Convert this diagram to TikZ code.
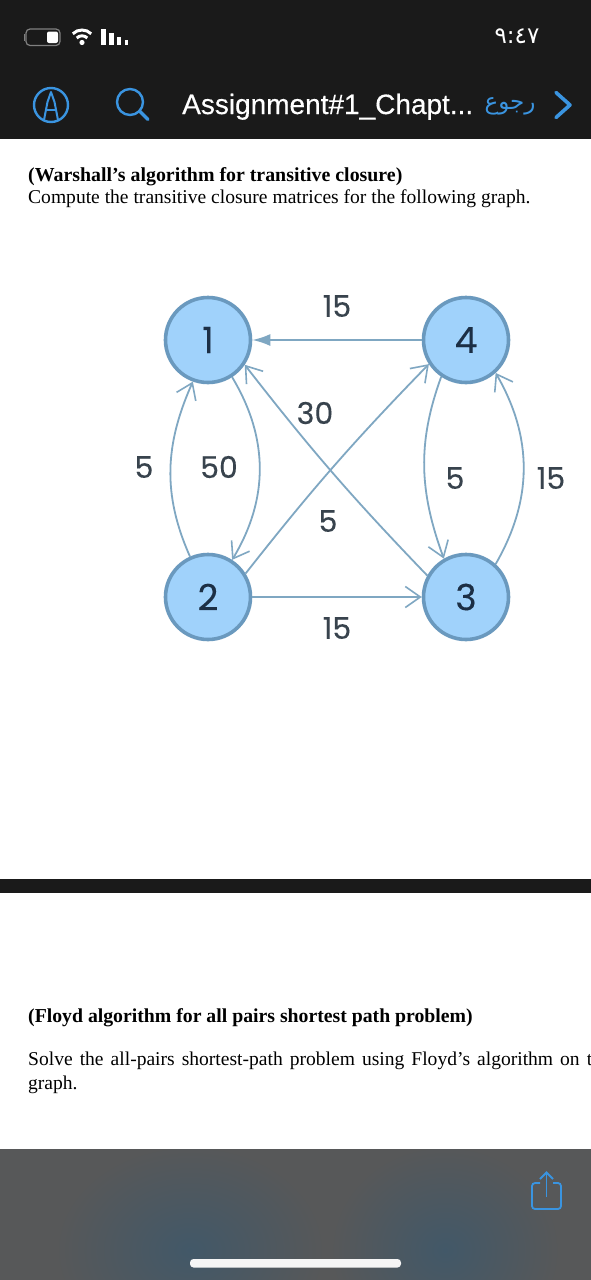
\documentclass[tikz,border=0pt]{standalone}
\usepackage{fontspec}
\usetikzlibrary{arrows.meta}
\setmainfont{Liberation Serif}
\newfontfamily\uifont[FakeBold=0.4]{Liberation Sans}
\newfontfamily\graphfont[FakeBold=0.25]{Poppins}
\newfontfamily\arabicfont[Script=Arabic]{DejaVu Sans}
\TeXXeTstate=1
\definecolor{barblack}{HTML}{1A1A1A}
\definecolor{uiblue}{HTML}{3A94E0}
\definecolor{nodefill}{HTML}{A0D2FB}
\definecolor{nodeedge}{HTML}{6A99BE}
\definecolor{edgecol}{HTML}{7FA7C2}
\definecolor{labelcol}{HTML}{38434D}
\definecolor{numcol}{HTML}{1C2F45}
\definecolor{panel}{HTML}{575859}
\definecolor{panelblue}{HTML}{425868}
\tikzset{
  vertex/.style={circle,draw=nodeedge,fill=nodefill,line width=3.6pt,minimum size=85pt,inner sep=0pt,
    font=\graphfont\fontsize{36}{36}\selectfont,text=numcol},
  weight/.style={font=\graphfont\fontsize{30}{30}\selectfont,text=labelcol,inner sep=0pt},
  conn/.style={draw=edgecol,line width=1.8pt,-{Straight Barb[length=15pt,width=21pt,line width=1.6pt]}},
  solidconn/.style={draw=edgecol,line width=2pt,-{Latex[length=18pt,width=12pt]}},
  uiline/.style={draw=uiblue,line width=2.4pt},
  para/.style={anchor=base west,inner sep=0pt,text=black},
}
\begin{document}
\begin{tikzpicture}[x=1pt,y=-1pt]
\useasboundingbox (0,0) rectangle (591,1280);
\fill[white] (0,0) rectangle (591,1280);
% header
\fill[barblack] (0,0) rectangle (591,139);
% battery
\draw[gray,line width=1.2pt,rounded corners=4pt] (26,29) rectangle (60,45.5);
\fill[gray] (23.5,34) rectangle (25,41);
\fill[white,rounded corners=2pt] (47,31.5) rectangle (58,43);
% wifi
\draw[white,line width=3pt] (72.8,33.8) arc[start angle=-135,end angle=-45,radius=13];
\draw[white,line width=3pt] (76.7,38) arc[start angle=-135,end angle=-45,radius=7.5];
\fill[white] (82,42.5) circle (2.6);
% signal bars
\fill[white] (101,29) rectangle (105.5,45);
\fill[white] (109,33) rectangle (113.5,45);
\fill[white] (117,37) rectangle (121,45);
\fill[white] (124.5,40) rectangle (128,45);
\node[inner sep=0pt,text=white] (clock) at (517,36) {\arabicfont\fontsize{23}{23}\selectfont ٩:٤٧};
% A icon
\draw[uiline] (51,105) circle (17);
\draw[uiline,line width=2pt,line join=round] (44,120) -- (47.5,102) -- (51,92) -- (54.5,102) -- (58,120);
\draw[uiline,line width=2pt] (47,110) -- (55,110);
% search
\draw[uiline] (130,102) circle (13);
\draw[uiline,line width=3.2pt,line cap=round] (139.5,111) -- (148,119.5);
\node[anchor=base west,inner sep=0pt,text=white] (title) at (182,114) {\uifont\fontsize{28}{28}\selectfont Assignment\#1\_Chapt...};
\node[inner sep=0pt,text=uiblue] (back) at (510,106) {\arabicfont\fontsize{23}{23}\selectfont\beginR رجوع\endR};
\draw[uiline,line width=3.6pt,line cap=round,line join=round] (556,92.5) -- (570,105) -- (556,117.5);
% text
\node[para] (t1) at (28,181.5) {\fontsize{19.87}{20}\selectfont\bfseries (Warshall’s algorithm for transitive closure)};
\node[para] (t2) at (28,203) {\fontsize{19.55}{20}\selectfont Compute the transitive closure matrices for the following graph.};
% graph
\node[vertex] (n1) at (208,340) {1};
\node[vertex] (n2) at (208,597) {2};
\node[vertex] (n3) at (466,597) {3};
\node[vertex] (n4) at (466,340) {4};
\draw[solidconn] (n4.180) -- (n1.0);
\draw[conn] (n2.0) -- (n3.180);
\draw[conn] (n2.114) to[out=114,in=-114] (n1.-110);
\draw[conn] (n1.-57) to[out=-59,in=59] (n2.57);
\draw[conn] (n4.-124) to[out=-110,in=110] (n3.120);
\draw[conn] (n3.48) to[out=60,in=-60] (n4.-48);
\draw[conn] (n2.32) to[bend left=3] (n4.-147);
\draw[conn] (n3.151) to[bend left=3] (n1.-34);
\node[weight] (w41) at (337,306) {15};
\node[weight] (w23) at (337,628) {15};
\node[weight] (w21) at (144,467) {5};
\node[weight] (w12) at (219,467) {50};
\node[weight] (w31) at (315,413) {30};
\node[weight] (w24) at (328,521) {5};
\node[weight] (w43) at (455,478) {5};
\node[weight] (w34) at (551,478) {15};
% divider
\fill[barblack] (0,879) rectangle (591,893);
% second text
\node[para] (t3) at (28,1022) {\fontsize{19.75}{20}\selectfont\bfseries (Floyd algorithm for all pairs shortest path problem)};
\node[para] (t4) at (28,1065) {\fontsize{19.55}{20}\selectfont\makebox[564pt][s]{Solve the all-pairs shortest-path problem using Floyd’s algorithm on t}};
\node[para] (t5) at (28,1089) {\fontsize{19.55}{20}\selectfont graph.};
% bottom panel
\fill[panel] (0,1149) rectangle (591,1280);
\begin{scope}
\clip (0,1149) rectangle (591,1280);
\shade[inner color=panelblue,outer color=panel] (190,1250) ellipse (135 and 105);
\shade[inner color=panelblue,outer color=panel] (445,1250) ellipse (115 and 105);
\end{scope}
\fill[white!92!gray,rounded corners=3.5pt] (190,1259) rectangle (401,1267.5);
% share icon
\draw[uiline,line width=1.8pt,rounded corners=3pt] (540,1183) -- (532,1183) -- (532,1209) -- (561,1209) -- (561,1183) -- (553,1183);
\draw[uiline,line width=1.8pt] (546.5,1197) -- (546.5,1173);
\draw[uiline,line width=1.8pt] (540,1179) -- (546.5,1172.5) -- (553,1179);
\end{tikzpicture}
\end{document}
